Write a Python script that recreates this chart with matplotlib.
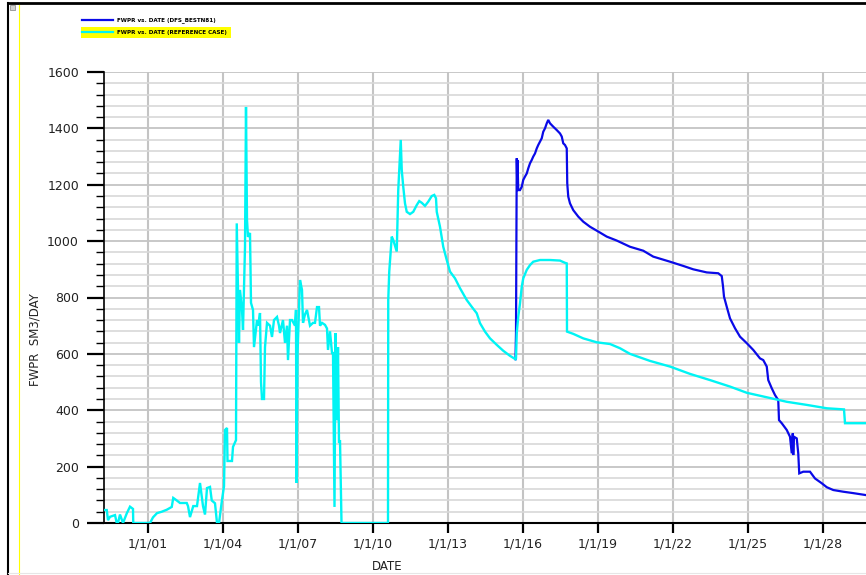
import matplotlib
matplotlib.use("Agg")
import matplotlib.pyplot as plt
from matplotlib.lines import Line2D
from matplotlib.patches import Rectangle
from matplotlib.ticker import MultipleLocator, FixedLocator, FuncFormatter

# ---- data: time in decimal years, rate in SM3/DAY ----
ref_years = [
    1999.26, 1999.35, 1999.40, 1999.48, 1999.68, 1999.75, 1999.80, 1999.88, 2000.00, 2000.15,
    2000.28, 2000.40, 2000.41, 2001.08, 2001.20, 2001.36, 2001.55, 2001.75, 2001.95, 2002.01,
    2002.15, 2002.28, 2002.55, 2002.60, 2002.68, 2002.81, 2002.96, 2003.08, 2003.20, 2003.28,
    2003.36, 2003.48, 2003.55, 2003.68, 2003.76, 2003.84, 2003.96, 2004.04, 2004.08, 2004.16,
    2004.18, 2004.36, 2004.40, 2004.52, 2004.55, 2004.60, 2004.64, 2004.68, 2004.76, 2004.80,
    2004.88, 2004.92, 2004.96, 2005.00, 2005.08, 2005.12, 2005.20, 2005.24, 2005.36, 2005.41,
    2005.48, 2005.52, 2005.56, 2005.64, 2005.68, 2005.76, 2005.88, 2005.96, 2006.04, 2006.16,
    2006.24, 2006.28, 2006.40, 2006.48, 2006.56, 2006.60, 2006.68, 2006.76, 2006.88, 2006.92,
    2006.94, 2006.98, 2007.08, 2007.16, 2007.20, 2007.28, 2007.36, 2007.48, 2007.60, 2007.68,
    2007.76, 2007.84, 2007.88, 2007.96, 2008.08, 2008.16, 2008.20, 2008.28, 2008.36, 2008.40,
    2008.46, 2008.50, 2008.56, 2008.60, 2008.64, 2008.68, 2008.74, 2010.60, 2010.61, 2010.65,
    2010.75, 2010.81, 2010.95, 2011.01, 2011.11, 2011.15, 2011.21, 2011.28, 2011.35, 2011.48,
    2011.61, 2011.75, 2011.85, 2011.95, 2012.08, 2012.21, 2012.35, 2012.45, 2012.52, 2012.55,
    2012.68, 2012.81, 2012.95, 2013.08, 2013.28, 2013.48, 2013.75, 2013.95, 2014.15, 2014.28,
    2014.48, 2014.68, 2014.95, 2015.21, 2015.48, 2015.70, 2015.72, 2015.75, 2015.81, 2015.88,
    2015.95, 2016.01, 2016.15, 2016.28, 2016.41, 2016.68, 2017.08, 2017.48, 2017.68, 2017.75,
    2017.76, 2018.01, 2018.41, 2018.95, 2019.48, 2019.88, 2020.28, 2021.08, 2021.88, 2022.68,
    2023.48, 2024.28, 2024.95, 2025.75, 2026.55, 2027.35, 2028.15, 2028.84, 2028.88, 2029.72,
]
ref_rate = [
    46, 46, 10, 22, 28, 0, 0, 30, 0, 34,
    58, 50, 0, 0, 20, 35, 40, 47, 57, 89,
    80, 71, 71, 60, 21, 60, 60, 142, 60, 30,
    124, 128, 80, 70, 0, 0, 82, 130, 330, 337,
    220, 220, 270, 294, 1063, 827, 639, 827, 756, 685,
    979, 1476, 1075, 1015, 1029, 781, 756, 624, 720, 700,
    745, 500, 440, 440, 624, 710, 700, 660, 720, 731,
    700, 674, 720, 639, 700, 578, 720, 720, 700, 756,
    142, 600, 862, 827, 710, 740, 756, 700, 710, 710,
    766, 766, 700, 710, 703, 690, 614, 680, 603, 603,
    57, 674, 365, 624, 284, 294, 0, 0, 791, 892,
    1016, 1004, 963, 1181, 1359, 1252, 1193, 1134, 1104, 1096,
    1104, 1128, 1142, 1136, 1125, 1140, 1160, 1164, 1152, 1104,
    1051, 980, 933, 892, 868, 833, 791, 767, 744, 709,
    679, 655, 632, 611, 593, 581, 584, 674, 732, 779,
    838, 868, 898, 915, 927, 933, 933, 931, 923, 921,
    679, 671, 655, 641, 635, 620, 600, 575, 555, 529,
    507, 484, 462, 446, 430, 419, 407, 403, 354, 354,
]

opt_years = [
    2015.70, 2015.72, 2015.75, 2015.77, 2015.78, 2015.81, 2015.88, 2015.95, 2016.01, 2016.08,
    2016.15, 2016.21, 2016.28, 2016.35, 2016.41, 2016.48, 2016.55, 2016.61, 2016.68, 2016.75,
    2016.81, 2016.88, 2016.95, 2017.01, 2017.08, 2017.21, 2017.35, 2017.48, 2017.55, 2017.61,
    2017.68, 2017.75, 2017.77, 2017.81, 2017.88, 2018.01, 2018.21, 2018.41, 2018.68, 2019.01,
    2019.35, 2019.75, 2020.28, 2020.81, 2021.21, 2021.88, 2022.41, 2022.81, 2023.35, 2023.81,
    2023.95, 2024.00, 2024.04, 2024.15, 2024.28, 2024.48, 2024.68, 2024.95, 2025.21, 2025.48,
    2025.61, 2025.75, 2025.81, 2025.95, 2026.08, 2026.21, 2026.24, 2026.35, 2026.55, 2026.68,
    2026.75, 2026.79, 2026.81, 2026.84, 2026.95, 2027.01, 2027.05, 2027.21, 2027.48, 2027.68,
    2027.95, 2028.15, 2028.41, 2028.81, 2029.21, 2029.72,
]
opt_rate = [
    581, 674, 1294, 1200, 1288, 1181, 1181, 1193, 1217, 1229,
    1240, 1258, 1276, 1288, 1300, 1311, 1329, 1341, 1353, 1365,
    1388, 1400, 1418, 1430, 1418, 1406, 1394, 1382, 1371, 1347,
    1341, 1329, 1205, 1158, 1134, 1110, 1087, 1069, 1051, 1034,
    1016, 1002, 980, 966, 945, 927, 912, 900, 889, 886,
    876, 840, 803, 767, 726, 691, 661, 638, 614, 584,
    578, 555, 507, 478, 454, 436, 365, 354, 330, 306,
    247, 318, 241, 306, 300, 247, 176, 182, 182, 158,
    141, 127, 117, 111, 106, 99,
]

tick_years = [2001, 2004, 2007, 2010, 2013, 2016, 2019, 2022, 2025, 2028]
legend_labels = ["FWPR vs. DATE (DFS_BESTN81)", "FWPR vs. DATE (REFERENCE CASE)"]

BLUE = "#0a0ae8"
CYAN = "#00f4f4"

W, H = 866, 575
fig = plt.figure(figsize=(W / 100, H / 100), dpi=100)
fig.patch.set_facecolor("white")


def fx(px):
    return px / W


def fy(py):
    return 1 - py / H


ax = fig.add_axes([fx(104), fy(523), fx(866) - fx(104), fy(72) - fy(523)])
ax.set_xlim(1999.24, 2029.72)
ax.set_ylim(0, 1600)

ax.plot(opt_years, opt_rate, color=BLUE, lw=1.6, zorder=3, solid_joinstyle="miter")
ax.plot(ref_years, ref_rate, color=CYAN, lw=1.7, zorder=4, solid_joinstyle="miter")

# axes, ticks
for s in ("top", "right"):
    ax.spines[s].set_visible(False)
ax.spines["left"].set_color("black")
ax.spines["left"].set_linewidth(1.2)
ax.spines["bottom"].set_color("black")
ax.spines["bottom"].set_linewidth(1.5)

ax.yaxis.set_major_locator(MultipleLocator(200))
ax.yaxis.set_minor_locator(MultipleLocator(40))
ax.xaxis.set_major_locator(FixedLocator(tick_years))
ax.xaxis.set_major_formatter(FuncFormatter(lambda v, p: f"1/1/{int(round(v)) % 100:02d}"))

ax.tick_params(axis="y", which="major", length=12, width=1.6, pad=6, labelsize=9,
               colors="black")
ax.tick_params(axis="y", which="minor", length=6, width=1.0, colors="black")
ax.tick_params(axis="x", which="major", length=7.5, width=1.6, pad=3, labelsize=9,
               colors="black")
for lab in ax.get_xticklabels() + ax.get_yticklabels():
    lab.set_color("#222222")

# grid
ax.set_axisbelow(True)
ax.grid(axis="x", which="major", color="#c4c4c4", lw=1.5)
ax.grid(axis="y", which="major", color="#c4c4c4", lw=1.3)
ax.grid(axis="y", which="minor", color="#d8d8d8", lw=1.2)

# axis titles
fig.text(fx(35), fy(340), "FWPR  SM3/DAY", rotation=90, ha="center", va="center",
         fontsize=8.5, color="#222222")
fig.text(fx(387), fy(566), "DATE", ha="center", va="center", fontsize=8.5, color="#222222")

# legend block
fig.add_artist(Rectangle((fx(81), fy(38)), fx(231) - fx(81), fy(27) - fy(38),
                         transform=fig.transFigure, facecolor="#ffff00", edgecolor="none"))
fig.add_artist(Line2D([fx(82), fx(113)], [fy(20), fy(20)], transform=fig.transFigure,
                      color=BLUE, lw=1.6))
fig.add_artist(Line2D([fx(82), fx(113)], [fy(32), fy(32)], transform=fig.transFigure,
                      color=CYAN, lw=1.6))
fig.text(fx(117), fy(20), legend_labels[0], ha="left", va="center", fontsize=4.1,
         fontweight="bold", color="black")
fig.text(fx(117), fy(32.5), legend_labels[1], ha="left", va="center", fontsize=4.1,
         fontweight="bold", color="black")

# window frame
fig.add_artist(Line2D([fx(8), fx(8)], [fy(3), fy(575)], transform=fig.transFigure,
                      color="black", lw=1.5))
fig.add_artist(Line2D([fx(8), fx(866)], [fy(3), fy(3)], transform=fig.transFigure,
                      color="black", lw=2))
fig.add_artist(Line2D([fx(18.5), fx(18.5)], [fy(5), fy(575)], transform=fig.transFigure,
                      color="#ffff00", lw=0.8))
fig.add_artist(Rectangle((fx(10), fy(10)), fx(5), fy(5) - fy(10), transform=fig.transFigure,
                         facecolor="#d0d0d0", edgecolor="#808080", lw=0.5))
fig.add_artist(Line2D([fx(8), fx(866)], [fy(573), fy(573)], transform=fig.transFigure,
                      color="#e6e6e6", lw=0.8))

fig.savefig("out.png", dpi=100)
